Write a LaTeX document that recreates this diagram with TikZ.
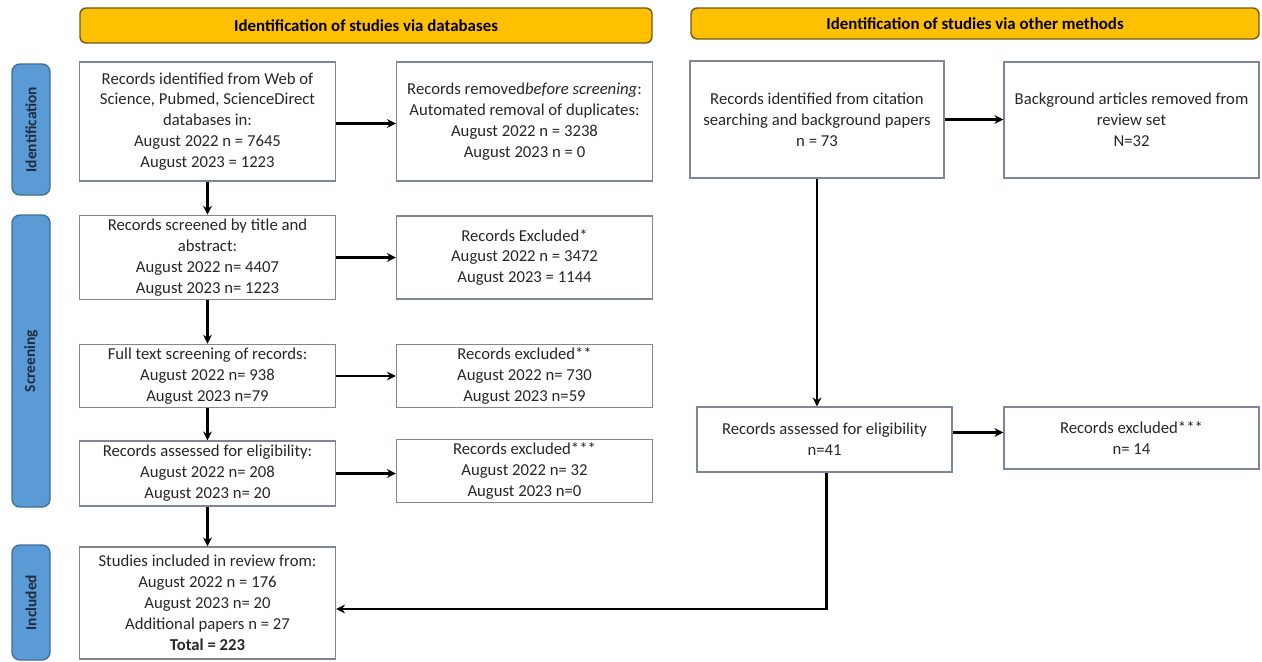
\documentclass[tikz,border=0pt]{standalone}
\usepackage{fontspec}
\setmainfont{Carlito}
\usetikzlibrary{arrows.meta, positioning}

\definecolor{hdrfill}{HTML}{FFC000}
\definecolor{hdrdraw}{HTML}{6E5A1E}
\definecolor{barfill}{HTML}{5B9BD5}
\definecolor{bardraw}{HTML}{3F6E9C}
\definecolor{bartext}{HTML}{1E2A3E}
\definecolor{boxdraw}{HTML}{7D879C}
\definecolor{boxtext}{HTML}{262626}

\begin{document}
\begin{tikzpicture}[
  every node/.style={font=\fontsize{9.5}{11.9}\selectfont, text=boxtext},
  box/.style={
    rectangle, draw=boxdraw, line width=0.8pt,
    minimum width=5.12cm, align=center, inner sep=2pt
  },
  hdr/.style={
    rectangle, rounded corners=3.5pt, draw=hdrdraw, line width=0.8pt,
    fill=hdrfill, align=center,
    font=\fontsize{9.6}{11}\selectfont\bfseries, text=black
  },
  side/.style={
    rectangle, rounded corners=4.5pt, draw=bardraw, line width=0.8pt,
    fill=barfill, minimum width=0.76cm, inner sep=0pt
  },
  sidelbl/.style={rotate=90, font=\fontsize{8.8}{10}\selectfont\bfseries, text=bartext},
  arr/.style={-{Stealth[length=5pt, width=5pt]}, line width=1.4pt, black}
]
\useasboundingbox (0,0) rectangle (25.24,-13.22);

% headers
\node[hdr, minimum width=11.44cm, minimum height=0.70cm] (hdb) at (7.32, -0.51)
  {Identification of studies via databases};
\node[hdr, minimum width=11.36cm, minimum height=0.62cm] (hom) at (19.50, -0.47)
  {Identification of studies via other methods};

% phase bars
\node[side, minimum height=2.62cm] (sid) at (0.62, -2.59) {};
\node[sidelbl] (sidl) at (sid.center) {Identification};
\node[side, minimum height=5.84cm] (ssc) at (0.62, -7.22) {};
\node[sidelbl] (sscl) at (ssc.center) {Screening};
\node[side, minimum height=2.30cm] (sin) at (0.62, -12.05) {};
\node[sidelbl] (sinl) at (sin.center) {Included};

% left column (databases)
\node[box, minimum height=2.38cm] (ident) at (4.15, -2.43)
  {Records identified from Web of\\Science, Pubmed, ScienceDirect\\databases in:\\August 2022 n = 7645\\August 2023 = 1223};
\node[box, minimum height=1.66cm] (screen) at (4.15, -5.15)
  {Records screened by title and\\abstract:\\August 2022 n= 4407\\August 2023 n= 1223};
\node[box, minimum height=1.24cm] (full) at (4.15, -7.52)
  {Full text screening of records:\\August 2022 n= 938\\August 2023 n=79};
\node[box, minimum height=1.30cm] (elig) at (4.15, -9.47)
  {Records assessed for eligibility:\\August 2022 n= 208\\August 2023 n= 20};
\node[box, minimum height=2.24cm] (incl) at (4.15, -12.06)
  {Studies included in review from:\\August 2022 n = 176\\August 2023 n= 20\\Additional papers n = 27\\\textbf{Total = 223}};

% center column (removed / excluded)
\node[box, minimum height=2.38cm] (dupl) at (10.49, -2.43)
  {Records removed\textit{before screening}:\\Automated removal of duplicates:\\August 2022 n = 3238\\August 2023 n = 0};
\node[box, minimum height=1.66cm] (exa) at (10.49, -5.15)
  {Records Excluded*\\August 2022 n = 3472\\August 2023 = 1144};
\node[box, minimum height=1.24cm] (exb) at (10.49, -7.52)
  {Records excluded**\\August 2022 n= 730\\August 2023 n=59};
\node[box, minimum height=1.24cm] (exc) at (10.49, -9.42)
  {Records excluded***\\August 2022 n= 32\\August 2023 n=0};

% right side (other methods)
\node[box, minimum width=5.08cm, minimum height=2.34cm] (cite) at (16.34, -2.39)
  {Records identified from citation\\searching and background papers\\n = 73};
\node[box, minimum width=5.10cm, minimum height=2.32cm] (bgrm) at (22.63, -2.40)
  {Background articles removed from\\review set\\N=32};
\node[box, minimum width=5.10cm, minimum height=1.30cm] (oelig) at (16.49, -8.79)
  {Records assessed for eligibility\\n=41};
\node[box, minimum width=5.10cm, minimum height=1.24cm] (oexc) at (22.63, -8.76)
  {Records excluded***\\n= 14};

% ======================
% FLOWS
% ======================

% down the database column
\draw[arr] (ident.south) -- (screen.north);
\draw[arr] (screen.south) -- (full.north);
\draw[arr] (full.south) -- (elig.north);
\draw[arr] (elig.south) -- (incl.north);

% to the side boxes
\draw[arr] ([yshift=-0.04cm]ident.east) -- ([yshift=-0.04cm]ident.east -| dupl.west);
\draw[arr] (screen.east) -- (exa.west);
\draw[arr] (full.east) -- (exb.west);
\draw[arr] (elig.east) -- (elig.east -| exc.west);

% other methods
\draw[arr] (cite.east) -- (cite.east -| bgrm.west);
\draw[arr] (cite.south) -- (cite.south |- oelig.north);
\draw[arr] ([yshift=0.14cm]oelig.east) -- ([yshift=0.14cm]oelig.east -| oexc.west);

% into included studies
\draw[arr] ([xshift=0.04cm]oelig.south) |- ([yshift=-0.12cm]incl.east);

\end{tikzpicture}
\end{document}
